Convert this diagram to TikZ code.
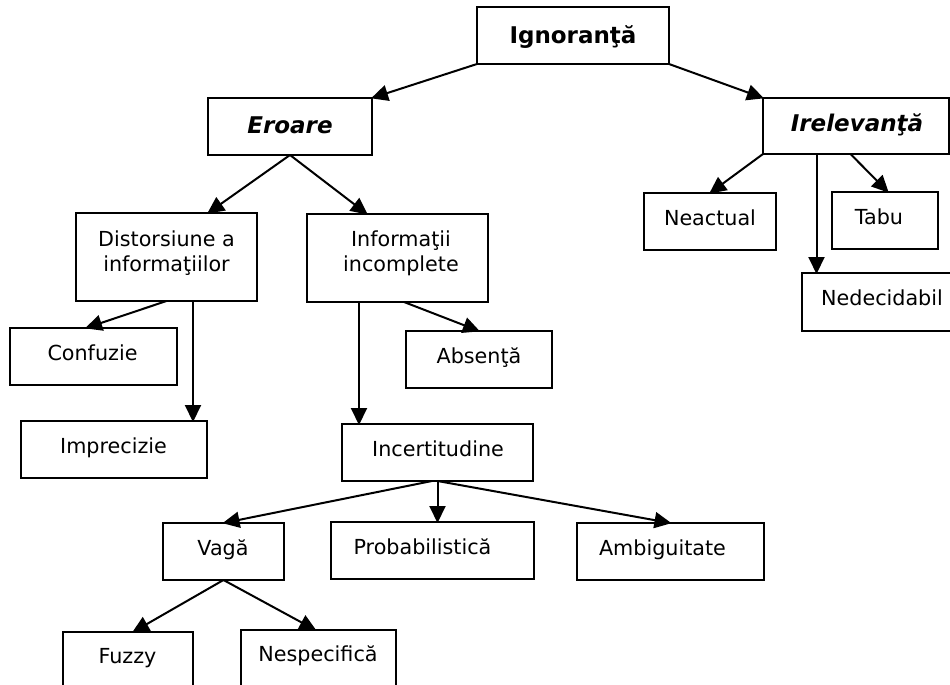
\documentclass[tikz,border=0pt]{standalone}
\usepackage{fontspec}
\setmainfont{DejaVu Sans}
\usetikzlibrary{arrows.meta}

\tikzset{
  box/.style={draw=black, line width=2pt, rectangle, inner sep=0pt, outer sep=0pt},
  txt/.style={inner sep=0pt, outer sep=0pt, anchor=base, font=\fontsize{20.7}{25.7}\selectfont},
  hdr/.style={inner sep=0pt, outer sep=0pt, anchor=base, font=\fontsize{23}{28}\selectfont\bfseries},
  hdri/.style={hdr, font=\fontsize{23}{28}\selectfont\bfseries\itshape},
  arr/.style={line width=2pt, -{Triangle[length=17pt, width=16pt]}, shorten >=-1pt}
}

% place a box by its corners (pixel coordinates, y downwards)
\newcommand{\boxat}[5]{%
  \pgfmathsetmacro{\bw}{#4-#2}\pgfmathsetmacro{\bh}{#5-#3}%
  \node[box, minimum width=\bw pt, minimum height=\bh pt] (#1) at ({(#2+#4)/2},{(#3+#5)/2}) {};}

\begin{document}
\begin{tikzpicture}[x=1pt, y=-1pt]
\useasboundingbox (0,0) rectangle (950,685);

% boxes
\boxat{ign}{477}{7}{669}{64}
\boxat{ero}{208}{98}{372}{155}
\boxat{irl}{763}{98}{949}{154}
\boxat{dis}{76}{213}{257}{301}
\boxat{inf}{307}{214}{488}{302}
\boxat{neact}{644}{193}{776}{250}
\boxat{tabu}{832}{192}{938}{249}
\boxat{ned}{802}{273}{960}{331}
\boxat{conf}{10}{328}{177}{385}
\boxat{abs}{406}{331}{552}{388}
\boxat{impr}{21}{421}{207}{478}
\boxat{inc}{342}{424}{533}{481}
\boxat{vaga}{163}{523}{284}{580}
\boxat{prob}{331}{522}{534}{579}
\boxat{amb}{577}{523}{764}{580}
\boxat{fuz}{63}{632}{193}{700}
\boxat{nesp}{241}{630}{396}{700}

% labels
\node[hdr]  (tign)   at (573,43.3)  {Ignoranţă};
\node[hdri] (tero)   at (290,133.3) {Eroare};
\node[hdri] (tirl)   at (857,131.7) {Irelevanţă};
\node[txt]  (tdis1)  at (166.5,246) {Distorsiune a};
\node[txt]  (tdis2)  at (166.5,271.7) {informaţiilor};
\node[txt]  (tinf1)  at (401,246.7) {Informaţii};
\node[txt]  (tinf2)  at (401,271.7) {incomplete};
\node[txt]  (tneact) at (710,225)   {Neactual};
\node[txt]  (ttabu)  at (879,224)   {Tabu};
\node[txt]  (tned)   at (882,305)   {Nedecidabil};
\node[txt]  (tconf)  at (92.5,360.7) {Confuzie};
\node[txt]  (tabs)   at (479,363)   {Absenţă};
\node[txt]  (timpr)  at (113.5,453.3) {Imprecizie};
\node[txt]  (tinc)   at (438,456)   {Incertitudine};
\node[txt]  (tvaga)  at (223,555)   {Vagă};
\node[txt]  (tprob)  at (422.5,554) {Probabilistică};
\node[txt]  (tamb)   at (662.5,555) {Ambiguitate};
\node[txt]  (tfuz)   at (127.5,663) {Fuzzy};
\node[txt]  (tnesp)  at (318,661.7) {Nespecifică};

% connectors
\draw[arr] (ign.south west) -- (ero.north east);
\draw[arr] (ign.south east) -- (irl.north west);
\draw[arr] (ero.south) -- ([xshift=41.5pt]dis.north);
\draw[arr] (ero.south) -- ([xshift=-30.5pt]inf.north);
\draw[arr] (dis.south) -- ([xshift=-7.5pt]conf.north);
\draw[arr] ([xshift=26.5pt]dis.south) -- ([xshift=26.5pt]dis.south |- impr.north);
\draw[arr] ([xshift=-38.5pt]inf.south) -- ([xshift=-38.5pt]inf.south |- inc.north);
\draw[arr] ([xshift=6.5pt]inf.south) -- (abs.north);
\draw[arr] (irl.south west) -- (neact.north);
\draw[arr] ([xshift=-39.5pt]irl.south) -- ([xshift=-39.5pt]irl.south |- ned.north);
\draw[arr] ([xshift=-5.5pt]irl.south) -- ([xshift=3pt]tabu.north);
\draw[arr] ([xshift=-5.5pt]inc.south) -- (vaga.north);
\draw[arr] (inc.south) -- (inc.south |- prob.north);
\draw[arr] (inc.south) -- (amb.north);
\draw[arr] (vaga.south) -- ([xshift=5pt]fuz.north);
\draw[arr] (vaga.south) -- ([xshift=-3pt]nesp.north);
\end{tikzpicture}
\end{document}
